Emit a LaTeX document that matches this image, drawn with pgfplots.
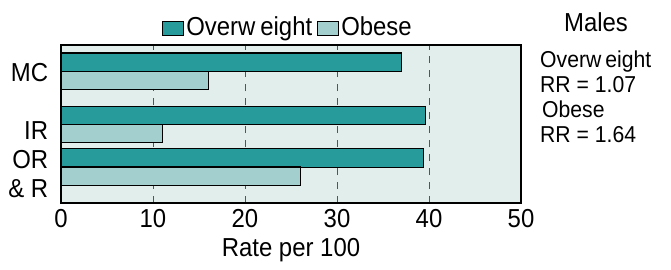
\documentclass[border=0pt]{standalone}
\usepackage{fontspec}
\setmainfont{Liberation Sans}[FakeStretch=0.92]
\usepackage{pgfplots}
\pgfplotsset{compat=1.18}
\definecolor{ow}{HTML}{279B9B}
\definecolor{ob}{HTML}{A3CFCE}
\definecolor{bg}{HTML}{E1EEEB}
\definecolor{gridc}{HTML}{555555}
\begin{document}
\fontsize{26}{29}\selectfont
\begin{tikzpicture}
\useasboundingbox (-61pt,-66pt) rectangle (610pt,203pt);
\begin{axis}[
  scale only axis, width=460pt, height=158pt,
  at={(0pt,0pt)}, anchor=south west,
  xmin=0, xmax=50, ymin=0, ymax=158,
  xbar, bar shift=0pt, bar width=18.3,
  axis background/.style={fill=bg},
  axis line style={line width=1.2pt, black},
  /pgf/number format/assume math mode=true,
  xtick={0,10,20,30,40,50},
  xtick pos=both, tick align=inside, major tick length=5pt,
  tick style={gridc, line width=1pt},
  ytick={130.8,72.6,28.5},
  yticklabels={MC,IR,{OR\\\& R}},
  ytick style={draw=none},
  yticklabel style={align=right, font=\fontsize{26}{29}\selectfont, xshift=-4pt},
  xticklabel style={font=\fontsize{26}{29}\selectfont, anchor=base, yshift=-24pt},
  xmajorgrids,
  major grid style={gridc, line width=1pt, dash pattern=on 7pt off 7pt},
  xlabel={Rate per 100},
  xlabel style={at={(axis description cs:0.5,0)}, anchor=base, yshift=-53pt, font=\fontsize{26}{29}\selectfont},
  legend columns=2,
  legend style={at={(0.5,1)}, anchor=south, yshift=3pt, xshift=-3pt, draw=none, fill=none,
    inner sep=0pt, font=\fontsize{26}{29}\selectfont,
    /tikz/every even column/.append style={column sep=3pt}},
  legend image code/.code={\draw[#1, draw=black, line width=1pt] (0pt,-7pt) rectangle (21pt,7pt);},
]
\addplot[fill=ow, draw=black, line width=1.2pt] coordinates {(37,140.8) (39.6,87.4) (39.4,45)};
\addlegendentry{Overw\kern5pt eight}
\addplot[fill=ob, draw=black, line width=1.2pt] coordinates {(16,122.4) (11,69.4) (26,26.8)};
\addlegendentry{Obese}
\end{axis}
\node[anchor=base] at (535pt,172pt) {Males};
\begin{scope}[every node/.style={anchor=base west, inner sep=0pt, font=\fontsize{23}{25}\selectfont}]
\node at (479pt,136pt) {Overw\kern4pt eight};
\node at (479pt,111pt) {RR = 1.07};
\node at (481pt,86pt) {Obese};
\node at (479pt,61pt) {RR = 1.64};
\end{scope}
\end{tikzpicture}
\end{document}
